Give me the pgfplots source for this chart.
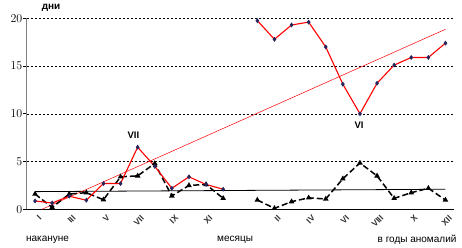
\documentclass[border=0pt]{standalone}
\usepackage{fontspec}
\setmainfont{Liberation Sans}
\usepackage{pgfplots}
\pgfplotsset{compat=1.18}
\definecolor{mk}{HTML}{26265E}
\begin{document}
\begin{tikzpicture}[x=1pt,y=1pt]
\useasboundingbox (-26.5,-38.7) rectangle (435.5,209.3);
\begin{axis}[at={(0,0)}, anchor=south west, scale only axis,
  width=427.5pt, height=191pt,
  xmin=-0.5, xmax=24.5, ymin=0, ymax=20,
  clip=false,
  axis x line*=bottom, axis y line*=left,
  x axis line style={black, line width=0.8pt, -},
  y axis line style={gray, line width=0.6pt, -},
  xtick={0,2,4,6,8,10,14,16,18,20,22,24},
  xticklabels={I,III,V,VII,IX,XI,II,IV,VI,VIII,X,XII},
  x tick label style={rotate=45, anchor=north east, font=\bfseries\fontsize{8.5}{9}\selectfont, text=black!80, inner sep=0.5pt, yshift=-3pt, xshift=1pt},
  minor xtick={-0.5,0.5,...,24.5},
  xtick style={draw=none},
  minor x tick style={black, line width=0.6pt},
  minor tick length=3pt,
  ytick={0,5,10,15,20},
  y tick label style={font=\bfseries\fontsize{11.5}{12}\selectfont, inner sep=1pt},
  y tick style={black, line width=0.6pt},
  major tick length=3pt,
  tick align=outside,
  ymajorgrids,
  major grid style={black, line width=0.5pt, dash pattern=on 2pt off 2pt},
]
% horizontal trend (black)
\addplot[black, line width=0.8pt, no marks] coordinates {(0,1.85) (24,2.1)};
% red trend
\addplot[red, line width=0.5pt, no marks] coordinates {(0.4,0) (24,18.85)};
% black dashed series
\addplot[black, line width=1.5pt, dash pattern=on 6pt off 3pt, mark=triangle*, mark size=1.8pt, mark options={solid}] coordinates {
(0,1.6) (1,0.2) (2,1.6) (3,1.74) (4,1.0) (5,3.4) (6,3.5) (7,4.8) (8,1.4) (9,2.5) (10,2.6) (11,1.15)};
\addplot[black, line width=1.5pt, dash pattern=on 6pt off 3pt, mark=triangle*, mark size=1.8pt, mark options={solid}] coordinates {
(13,0.97) (14,0.1) (15,0.8) (16,1.2) (17,1.08) (18,3.2) (19,4.85) (20,3.5) (21,1.15) (22,1.74) (23,2.2) (24,0.97)};
% red series
\addplot[red, line width=1.1pt, mark=diamond*, mark size=1.6pt, mark options={mk, fill=mk}] coordinates {
(0,0.87) (1,0.66) (2,1.37) (3,0.95) (4,2.7) (5,2.7) (6,6.5) (7,4.5) (8,2.2) (9,3.4) (10,2.6) (11,2.1)};
\addplot[red, line width=1.1pt, mark=diamond*, mark size=1.6pt, mark options={mk, fill=mk}] coordinates {
(13,19.75) (14,17.8) (15,19.3) (16,19.6) (17,17.0) (18,13.1) (19,10.0) (20,13.2) (21,15.1) (22,15.9) (23,15.9) (24,17.4)};
\node[font=\bfseries\fontsize{9.5}{10}\selectfont] at (axis cs:5.75,7.8) {VII};
\node[font=\bfseries\fontsize{9.5}{10}\selectfont] at (axis cs:18.95,8.8) {VI};
\node[font=\bfseries\fontsize{10}{10}\selectfont] at (axis cs:0.94,21.05) {дни};
\node[font=\fontsize{10}{12}\selectfont] at (axis cs:0.73,-3.2) {накануне};
\node[font=\fontsize{10}{12}\selectfont] at (axis cs:11.7,-3.2) {месяцы};
\node[font=\fontsize{10}{12}\selectfont] at (axis cs:22.34,-3.2) {в годы аномалий};
\end{axis}
\end{tikzpicture}
\end{document}
